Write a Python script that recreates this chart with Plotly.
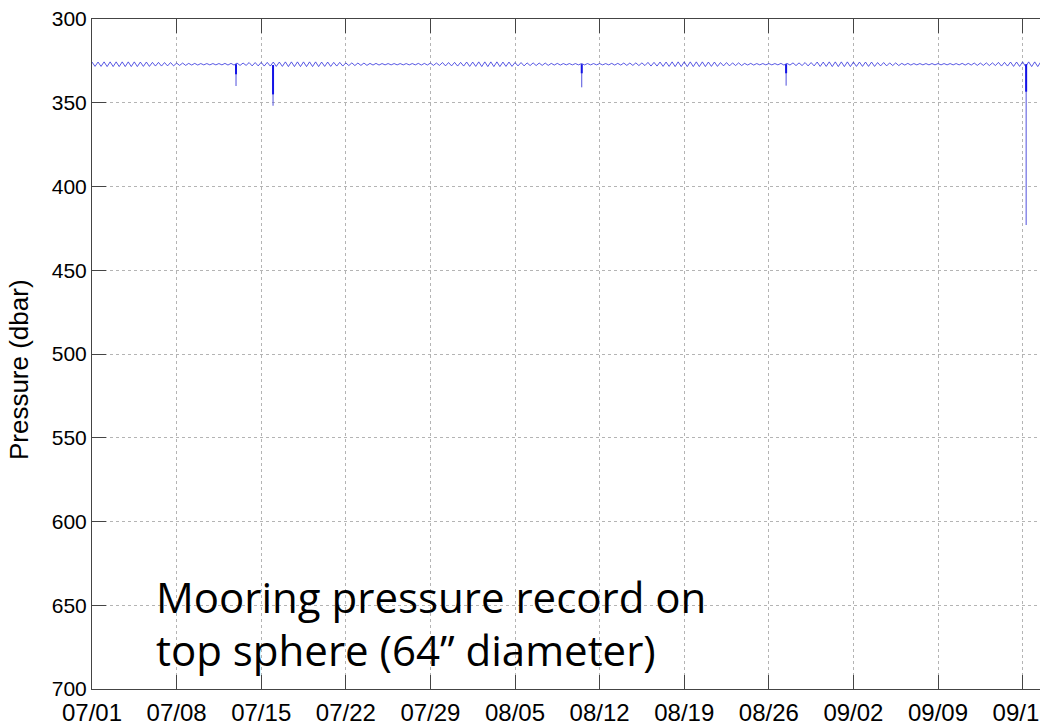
import pandas as pd
import plotly.graph_objects as go

# ---- data ----
start_date = "2013-07-01"
# tidal pressure record, sampled every 6 h (dbar), 4 values per day
pressure = [
    325.7, 328.3, 325.7, 328.3,  # 07/01
    325.6, 328.4, 325.6, 328.4,
    325.6, 328.4, 325.6, 328.4,
    325.6, 328.4, 325.6, 328.4,
    325.7, 328.3, 325.7, 328.3,
    325.9, 328.1, 325.9, 328.1,
    326.0, 328.0, 326.0, 328.0,
    326.3, 327.7, 326.3, 327.7,  # 07/08
    326.5, 327.5, 326.5, 327.5,
    326.6, 327.4, 326.6, 327.4,
    326.6, 327.4, 326.6, 327.4,
    326.5, 327.5, 326.5, 327.5,
    326.3, 327.7, 326.3, 327.7,
    326.0, 328.0, 326.0, 328.0,
    325.9, 328.1, 325.9, 328.1,  # 07/15
    325.7, 328.3, 325.7, 328.3,
    325.6, 328.4, 325.6, 328.4,
    325.6, 328.4, 325.6, 328.4,
    325.6, 328.4, 325.6, 328.4,
    325.7, 328.3, 325.7, 328.3,
    325.9, 328.1, 325.9, 328.1,
    326.2, 327.8, 326.2, 327.8,  # 07/22
    326.3, 327.7, 326.3, 327.7,
    326.5, 327.5, 326.5, 327.5,
    326.6, 327.4, 326.6, 327.4,
    326.6, 327.4, 326.6, 327.4,
    326.6, 327.4, 326.6, 327.4,
    326.5, 327.5, 326.5, 327.5,
    326.3, 327.7, 326.3, 327.7,  # 07/29
    326.0, 328.0, 326.0, 328.0,
    325.9, 328.1, 325.9, 328.1,
    325.7, 328.3, 325.7, 328.3,
    325.6, 328.4, 325.6, 328.4,
    325.6, 328.4, 325.6, 328.4,
    325.7, 328.3, 325.7, 328.3,
    326.0, 328.0, 326.0, 328.0,  # 08/05
    326.2, 327.8, 326.2, 327.8,
    326.3, 327.7, 326.3, 327.7,
    326.5, 327.5, 326.5, 327.5,
    326.6, 327.4, 326.6, 327.4,
    326.6, 327.4, 326.6, 327.4,
    326.6, 327.4, 326.6, 327.4,
    326.6, 327.4, 326.6, 327.4,  # 08/12
    326.5, 327.5, 326.5, 327.5,
    326.3, 327.7, 326.3, 327.7,
    326.2, 327.8, 326.2, 327.8,
    325.9, 328.1, 325.9, 328.1,
    325.7, 328.3, 325.7, 328.3,
    325.6, 328.4, 325.6, 328.4,
    325.6, 328.4, 325.6, 328.4,  # 08/19
    325.6, 328.4, 325.6, 328.4,
    325.7, 328.3, 325.7, 328.3,
    326.0, 328.0, 326.0, 328.0,
    326.2, 327.8, 326.2, 327.8,
    326.5, 327.5, 326.5, 327.5,
    326.6, 327.4, 326.6, 327.4,
    326.6, 327.4, 326.6, 327.4,  # 08/26
    326.5, 327.5, 326.5, 327.5,
    326.2, 327.8, 326.2, 327.8,
    326.0, 328.0, 326.0, 328.0,
    325.7, 328.3, 325.7, 328.3,
    325.6, 328.4, 325.6, 328.4,
    325.6, 328.4, 325.6, 328.4,
    325.7, 328.3, 325.7, 328.3,  # 09/02
    325.7, 328.3, 325.7, 328.3,
    326.0, 328.0, 326.0, 328.0,
    326.2, 327.8, 326.2, 327.8,
    326.5, 327.5, 326.5, 327.5,
    326.6, 327.4, 326.6, 327.4,
    326.6, 327.4, 326.6, 327.4,
    326.6, 327.4, 326.6, 327.4,  # 09/09
    326.6, 327.4, 326.6, 327.4,
    326.5, 327.5, 326.5, 327.5,
    326.3, 327.7, 326.3, 327.7,
    326.2, 327.8, 326.2, 327.8,
    325.9, 328.1, 325.9, 328.1,
    325.7, 328.3, 325.7, 328.3,
    325.6, 328.4, 325.6, 328.4,  # 09/16
    325.6, 328.4, 325.6, 328.4,
]

# short excursions (sphere pulled down)
spike_times = ["2013-07-12 22:00", "2013-07-15 23:30", "2013-08-10 12:30",
               "2013-08-27 10:20", "2013-09-16 07:00"]
spike_top = [327.0, 327.5, 327.0, 327.0, 327.0]
spike_dense_bottom = [333.0, 345.0, 332.4, 332.4, 343.4]
spike_bottom = [340.0, 351.8, 340.8, 339.8, 423.0]

x_start = "2013-07-01 00:00"
x_end = "2013-09-17 10:30"
tick_start = "2013-07-01"
y_range = [700, 300]
y_ticks = [300, 350, 400, 450, 500, 550, 600, 650, 700]

y_title = "Pressure (dbar)"
annotation_lines = ["Mooring pressure record on", "top sphere (64\u201d diameter)"]

# ---- figure ----
times = pd.date_range(start_date, periods=len(pressure), freq="6h")

fig = go.Figure()
fig.add_trace(go.Scatter(x=times, y=pressure, mode="lines",
                         line=dict(color="rgb(45,45,220)", width=0.8),
                         showlegend=False, hoverinfo="skip"))

thin_x, thin_y, dense_x, dense_y = [], [], [], []
for t, top, dbot, bot in zip(spike_times, spike_top, spike_dense_bottom, spike_bottom):
    thin_x += [t, t, None]
    thin_y += [top, bot, None]
    dense_x += [t, t, None]
    dense_y += [top, dbot, None]

fig.add_trace(go.Scatter(x=thin_x, y=thin_y, mode="lines",
                         line=dict(color="rgb(80,80,220)", width=1),
                         showlegend=False, hoverinfo="skip"))
fig.add_trace(go.Scatter(x=dense_x, y=dense_y, mode="lines",
                         line=dict(color="rgb(20,20,230)", width=2),
                         showlegend=False, hoverinfo="skip"))

axis_color = "#444444"
grid_color = "#b4b4b4"

fig.update_xaxes(
    range=[x_start, x_end], automargin=False,
    tick0=tick_start, dtick=7 * 24 * 3600 * 1000, tickformat="%m/%d",
    ticks="inside", ticklen=14, tickcolor=axis_color, tickwidth=1,
    showline=True, linecolor=axis_color, linewidth=1, mirror="ticks",
    showgrid=True, gridcolor=grid_color, griddash="dot", gridwidth=1,
    zeroline=False, ticklabeloverflow="allow",
    tickfont=dict(family="Liberation Sans, Arial", size=24, color="black"),
    ticklabelstandoff=2,
)
fig.update_yaxes(
    range=y_range, tickvals=y_ticks, automargin=False,
    ticks="inside", ticklen=14, tickcolor=axis_color, tickwidth=1,
    showline=True, linecolor=axis_color, linewidth=1, mirror=False,
    showgrid=True, gridcolor=grid_color, griddash="dot", gridwidth=1,
    zeroline=False, ticklabeloverflow="allow",
    tickfont=dict(family="Liberation Sans, Arial", size=21, color="black"),
)

fig.add_annotation(
    text=y_title, xref="paper", yref="paper",
    x=-73 / 948, y=0.476, xanchor="center", yanchor="middle",
    textangle=-90, showarrow=False,
    font=dict(family="Liberation Sans, Arial", size=26, color="black"),
)

for line_text, ypos, ysh in zip(annotation_lines, [0.1328, 0.0567], [4, 2]):
    fig.add_annotation(
        text=line_text, xref="paper", yref="paper",
        x=66 / 948, y=ypos, xanchor="left", yanchor="middle", align="left",
        xshift=-4, yshift=ysh, showarrow=False,
        font=dict(family="Open Sans, Lato, sans-serif", size=42, color="black"),
    )

fig.update_layout(
    width=1040, height=727,
    margin=dict(l=92, r=0, t=19, b=38),
    paper_bgcolor="white", plot_bgcolor="white",
)

fig.write_html(
    "out.html",
    config={"displayModeBar": False},
    post_script="document.body.style.margin='0';document.body.style.overflow='hidden';",
)
